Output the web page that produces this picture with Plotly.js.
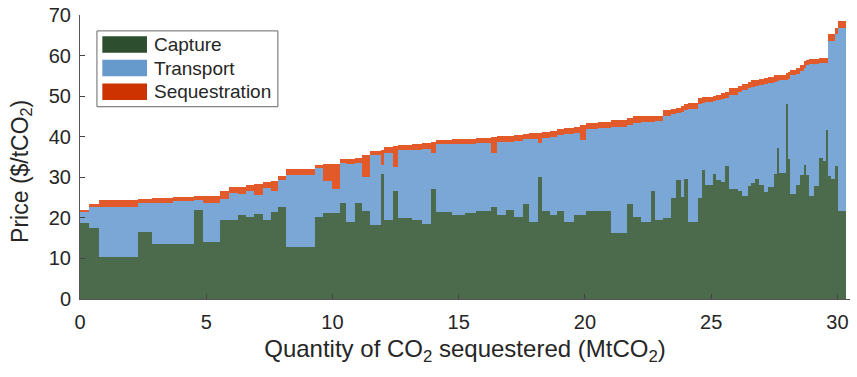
<!DOCTYPE html>
<html>
<head>
<meta charset="utf-8">
<script src="https://cdn.plot.ly/plotly-3.0.1.min.js"></script>
<style>html,body{margin:0;padding:0;background:#fff;}#chart{width:857px;height:377px;}</style>
</head>
<body>
<div id="chart"></div>
<script>
// Cumulative quantity at the right edge of each step (MtCO2)
const cumQty = [0.34,0.77,2.31,2.84,3.7,4.53,4.86,5.56,5.92,6.25,6.58,6.91,7.24,7.57,7.86,8.14,9.29,9.64,9.98,10.3,
  10.54,10.91,11.17,11.49,11.92,12.05,12.4,12.59,13.15,13.55,13.92,14.1,14.75,15.23,15.69,16.26,16.52,16.88,17.18,17.54,
  17.8,18.13,18.29,18.6,18.9,19.19,19.56,19.82,20.04,20.5,21.04,21.68,21.9,22.23,22.6,22.76,23.09,23.42,23.6,23.81,
  23.94,24.07,24.47,24.64,24.77,25.06,25.19,25.39,25.56,25.7,26.05,26.22,26.45,26.58,26.75,26.91,27.1,27.27,27.48,27.61,
  27.7,27.97,28.06,28.14,28.36,28.5,28.67,28.76,28.89,29.09,29.29,29.42,29.53,29.62,29.75,29.91,30.04,30.36];
// Cost components ($/tCO2)
const capture = [18.8,17.5,10.3,16.5,13.6,13.6,22.0,14.0,19.5,19.5,20.6,20.2,21.0,19.5,21.4,22.6,12.8,20.1,21.2,21.2,
  23.6,19.1,23.7,21.6,18.3,30.8,19.5,26.7,19.9,19.5,18.4,27.2,21.4,20.8,21.2,21.7,22.8,20.6,22.0,20.3,
  23.4,19.1,30.0,21.6,20.7,21.7,19.1,20.7,20.7,21.7,21.7,16.2,23.4,20.1,19.1,26.7,19.5,19.9,24.9,29.4,
  25.1,29.7,19.1,25.0,31.8,28.1,30.9,29.4,28.8,32.7,27.1,26.6,25.3,27.8,28.7,29.6,28.1,26.4,27.5,30.8,
  37.2,31.0,48.1,34.4,26.0,28.1,30.6,33.1,30.6,25.3,27.8,34.7,33.9,41.6,30.2,29.6,32.7,21.8];
const transport = [2.6,5.3,12.3,7.1,10.0,10.5,2.3,9.7,5.1,6.7,5.3,6.5,4.7,7.8,5.3,6.8,17.8,12.2,7.8,6.0,
  9.9,14.2,9.8,8.4,17.1,2.3,16.5,5.8,16.9,17.3,18.5,8.9,16.8,17.5,17.0,16.7,13.3,18.0,16.8,18.7,
  16.0,20.3,8.4,18.2,19.3,18.8,21.6,20.3,18.6,20.3,20.5,26.3,19.4,23.4,24.5,17.0,24.3,25.3,20.6,16.4,
  21.0,16.8,27.7,23.0,16.4,20.4,17.8,19.6,20.6,16.8,23.3,24.3,26.1,24.2,23.6,22.9,24.7,26.6,25.8,22.8,
  16.5,22.9,6.0,19.9,29.1,27.3,25.7,23.9,27.2,32.7,30.2,23.4,24.3,16.6,33.4,34.0,32.7,45.0];
const sequestration = [0.6,0.7,1.7,1.0,1.2,1.1,1.0,1.7,1.9,1.5,1.7,1.4,2.6,1.5,2.5,1.0,1.5,0.8,4.3,6.1,
  1.0,1.2,1.2,5.6,1.0,3.7,1.4,5.1,1.2,1.4,1.5,2.7,1.0,1.1,1.3,1.4,3.8,1.5,1.4,1.5,
  1.3,1.5,2.5,1.3,1.5,1.4,1.4,1.4,3.5,1.3,1.4,1.5,1.8,1.5,1.4,1.4,1.4,1.3,1.3,1.4,
  1.4,1.6,1.4,1.5,1.5,1.4,1.4,1.4,1.4,1.4,1.5,1.5,1.5,1.5,1.6,1.5,1.5,1.5,1.5,1.5,
  1.5,1.4,1.6,1.6,1.3,1.5,1.4,1.6,1.2,1.2,1.2,1.2,1.2,1.3,1.6,1.6,1.4,1.7];
const seriesNames = ['Capture','Transport','Sequestration'];
const xTicks = [0,5,10,15,20,25,30];
const yTicks = [0,10,20,30,40,50,60,70];
const xTitle = 'Quantity of CO<sub>2</sub> sequestered (MtCO<sub>2</sub>)';
const yTitle = 'Price ($/tCO<sub>2</sub>)';

// derive bar widths and centres from the cumulative quantities
const widths = cumQty.map((v,i)=> v - (i===0 ? 0 : cumQty[i-1]));
const centers = cumQty.map((v,i)=> v - widths[i]/2);

const barColors = ['#4b6b4c','#7ba7d6','#e35a2a'];
const legendColors = ['#2e4f2f','#6699cc','#cc3300'];
const vals = [capture, transport, sequestration];

const traces = vals.map((arr,k)=>({
  type:'bar', x:centers, y:arr, width:widths, name:seriesNames[k],
  marker:{color:barColors[k], line:{width:0}}, showlegend:false, hoverinfo:'skip'
}));

const font = {family:'"Liberation Sans", Arial, sans-serif', color:'#262626'};

// custom legend (box, swatches, labels) in paper coordinates
const shapes = [{type:'rect', xref:'paper', yref:'paper', x0:0.022, x1:0.257, y0:0.677, y1:0.944,
  line:{color:'#666', width:1}, fillcolor:'#fff', layer:'above'}];
const annotations = [];
const rowY = [0.896, 0.813, 0.73];
seriesNames.forEach((n,k)=>{
  shapes.push({type:'rect', xref:'paper', yref:'paper', x0:0.029, x1:0.087, y0:rowY[k]-0.029, y1:rowY[k]+0.029,
    line:{width:0}, fillcolor:legendColors[k], layer:'above'});
  annotations.push({xref:'paper', yref:'paper', x:0.093, y:rowY[k], text:n, showarrow:false,
    xanchor:'left', yanchor:'middle', font:Object.assign({size:19}, font)});
});
// y-axis title placed as a rotated annotation
annotations.push({xref:'paper', yref:'paper', x:-0.077, y:0.45, text:yTitle, textangle:-90,
  showarrow:false, xanchor:'center', yanchor:'middle', font:Object.assign({size:23}, font)});

const layout = {
  width:857, height:377, margin:{l:80, r:7, t:15, b:78},
  barmode:'stack', bargap:0, paper_bgcolor:'#fff', plot_bgcolor:'#fff',
  font:Object.assign({size:20}, font),
  xaxis:{range:[0,30.5], tickvals:xTicks, ticks:'inside', ticklen:5, tickcolor:'#444',
    showline:true, linecolor:'#555', linewidth:1, showgrid:false, zeroline:false,
    ticklabelstandoff:5,
    tickfont:Object.assign({size:20}, font),
    title:{text:xTitle, font:Object.assign({size:24}, font), standoff:8}},
  yaxis:{range:[0,70], tickvals:yTicks, ticks:'inside', ticklen:5, tickcolor:'#444',
    showline:true, linecolor:'#555', linewidth:1, showgrid:false, zeroline:false,
    ticklabelstandoff:4,
    tickfont:Object.assign({size:20}, font)},
  shapes:shapes, annotations:annotations, showlegend:false
};

Plotly.newPlot('chart', traces, layout, {displayModeBar:false, staticPlot:true});
</script>
</body>
</html>
